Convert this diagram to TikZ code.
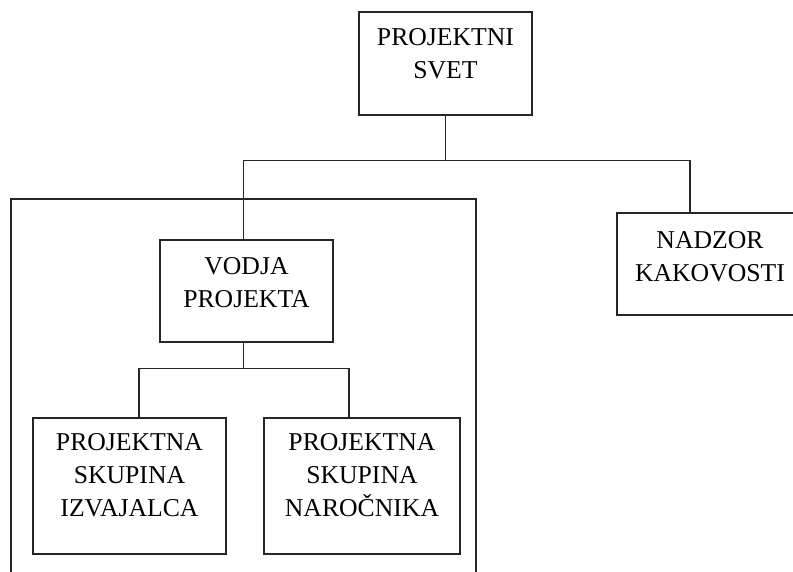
\documentclass[tikz,border=0pt]{standalone}
\usepackage{fontspec}
\setmainfont{Liberation Serif}

\begin{document}
\begin{tikzpicture}[x=1pt,y=-1pt,line width=1.2pt,
    box/.style={draw=black!85,rectangle,inner sep=0pt},
    lbl/.style={anchor=north,align=center,inner sep=0pt,
      font=\fontsize{25.7}{33}\selectfont}]
\useasboundingbox (0,0) rectangle (793,572);
\clip (0,0) rectangle (793,572);

% the frame round the project part
\draw[black!85] (11,199) rectangle (476,600);

% boxes
\node[box,minimum width=173,minimum height=103] (svet) at (445.5,63.5) {};
\node[box,minimum width=173,minimum height=102] (vodja) at (246.5,291) {};
\node[box,minimum width=186,minimum height=102] (nadzor) at (710,264) {};
\node[box,minimum width=193,minimum height=136] (izvajalec) at (129.5,486) {};
\node[box,minimum width=196,minimum height=136] (narocnik) at (362,486) {};

% texts
\node[lbl] (svettxt) at ([yshift=-16]svet.north) {PROJEKTNI\\SVET};
\node[lbl] (vodjatxt) at ([yshift=-17]vodja.north) {VODJA\\PROJEKTA};
\node[lbl] (nadzortxt) at ([yshift=-18]nadzor.north) {NADZOR\\KAKOVOSTI};
\node[lbl] (izvajalectxt) at ([yshift=-15]izvajalec.north) {PROJEKTNA\\SKUPINA\\IZVAJALCA};
\node[lbl] (narocniktxt) at ([yshift=-15]narocnik.north) {PROJEKTNA\\SKUPINA\\NAROČNIKA};

% connectors
\draw[black!85] (svet.south) -- ++(0,45) -| ([xshift=-3]vodja.north);
\draw[black!85] (svet.south) -- ++(0,45) -| ([xshift=-20]nadzor.north);
\draw[black!85] ([xshift=-3]vodja.south) -- ++(0,26) -| ([xshift=9.5]izvajalec.north);
\draw[black!85] ([xshift=-3]vodja.south) -- ++(0,26) -| ([xshift=-13]narocnik.north);

\end{tikzpicture}
\end{document}
